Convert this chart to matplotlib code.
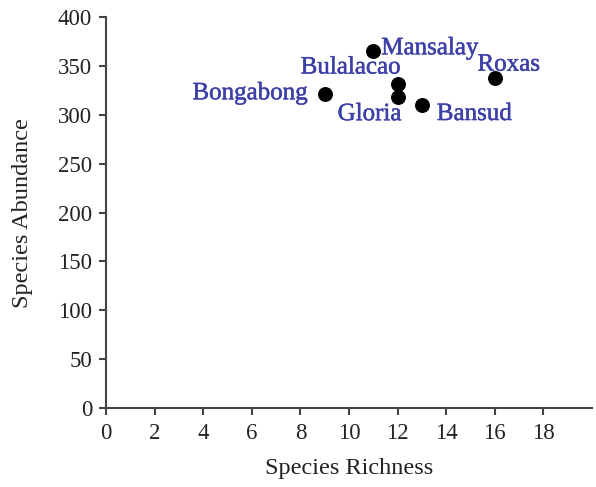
import matplotlib
matplotlib.use("Agg")
import matplotlib.pyplot as plt
import matplotlib.patheffects as pe

sites = ["Mansalay", "Bulalacao", "Bongabong", "Gloria", "Bansud", "Roxas"]
richness = [11, 12, 9, 12, 13, 16]
abundance = [365, 332, 321, 318, 310, 338]

# label placement (pixel offsets from each point, alignment)
label_offsets = {
    "Mansalay": ((8, 3), "left"),
    "Bulalacao": ((3, 16), "right"),
    "Bongabong": ((-17, 1), "right"),
    "Gloria": ((-28, -17), "center"),
    "Bansud": ((15, -9), "left"),
    "Roxas": ((14, 13), "center"),
}

plt.rcParams["font.family"] = ["Liberation Serif", "DejaVu Serif"]

fig = plt.figure(figsize=(5.96, 4.87), dpi=100)
ax = fig.add_axes([0.178, 0.162, 0.815, 0.803])

ax.scatter(richness, abundance, s=95, color="black", zorder=3)

label_color = "#3d40a8"
for name, x, y in zip(sites, richness, abundance):
    off, ha = label_offsets[name]
    ax.annotate(name, (x, y), xytext=off, textcoords="offset pixels",
                ha=ha, va="center", color=label_color, fontsize=18,
                path_effects=[pe.withStroke(linewidth=0.35, foreground=label_color)])

ax.set_xlim(0, 20)
ax.set_ylim(0, 400)
ax.set_xticks(range(0, 20, 2))
ax.set_yticks(range(0, 401, 50))

for side in ("top", "right"):
    ax.spines[side].set_visible(False)
for side in ("left", "bottom"):
    ax.spines[side].set_color("#444444")
    ax.spines[side].set_linewidth(1.5)
ax.tick_params(axis="both", direction="out", length=5, width=1.5,
               color="#444444", labelsize=16.5, labelcolor="#222222")
ax.tick_params(axis="x", pad=6)
ax.tick_params(axis="y", pad=5)

ax.set_xlabel("Species Richness", fontsize=17.5, labelpad=10, color="#222222")
ax.set_ylabel("Species Abundance", fontsize=17.5, labelpad=18, color="#222222")

fig.savefig("out.png", dpi=100)
